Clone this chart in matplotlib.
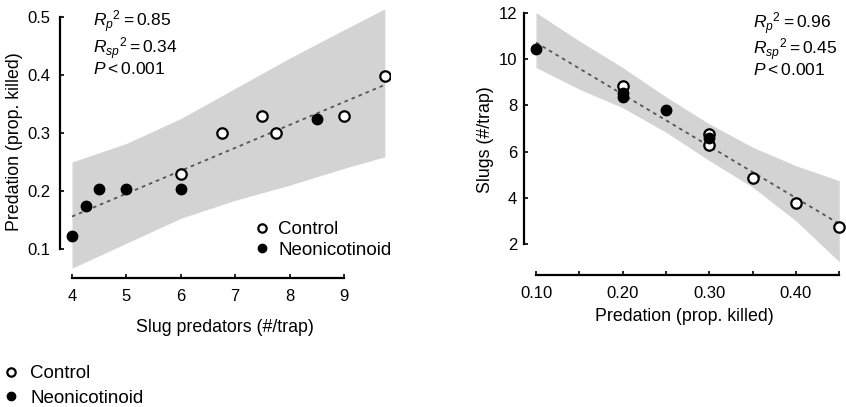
import matplotlib
matplotlib.use("Agg")
import matplotlib.pyplot as plt

plt.rcParams['font.family'] = ['Liberation Sans', 'DejaVu Sans']
plt.rcParams['mathtext.fontset'] = 'custom'
plt.rcParams['mathtext.rm'] = 'Liberation Sans'
plt.rcParams['mathtext.it'] = 'Liberation Sans:italic'

# ---- Left panel data: slug predators vs predation ----
left_ctrl_x = [6.0, 6.75, 7.5, 7.75, 9.0, 9.75]
left_ctrl_y = [0.23, 0.30, 0.33, 0.30, 0.33, 0.398]
left_neo_x = [4.0, 4.25, 4.5, 5.0, 6.0, 8.5]
left_neo_y = [0.123, 0.174, 0.204, 0.204, 0.204, 0.324]
left_fit_x = [4.0, 9.75]
left_fit_y = [0.156, 0.383]
left_band_x = [4, 5, 6, 7, 8, 9, 9.75]
left_band_lo = [0.067, 0.110, 0.153, 0.184, 0.210, 0.239, 0.259]
left_band_hi = [0.250, 0.282, 0.325, 0.377, 0.429, 0.478, 0.514]
left_xticks = [4, 5, 6, 7, 8, 9]
left_yticks = [0.1, 0.2, 0.3, 0.4, 0.5]
left_stats = [r'$R_{p}{}^{2} = 0.85$', r'$R_{sp}{}^{2} = 0.34$', r'$P < 0.001$']

# ---- Right panel data: predation vs slugs ----
right_ctrl_x = [0.20, 0.30, 0.30, 0.35, 0.40, 0.45]
right_ctrl_y = [8.82, 6.75, 6.30, 4.85, 3.78, 2.75]
right_neo_x = [0.10, 0.20, 0.20, 0.25, 0.30]
right_neo_y = [10.45, 8.55, 8.35, 7.78, 6.60]
right_fit_x = [0.10, 0.45]
right_fit_y = [10.72, 2.87]
right_band_x = [0.10, 0.15, 0.20, 0.25, 0.30, 0.35, 0.40, 0.45]
right_band_lo = [9.64, 8.70, 7.90, 6.84, 5.61, 4.46, 3.00, 1.23]
right_band_hi = [12.02, 10.79, 9.64, 8.37, 7.20, 6.19, 5.39, 4.74]
right_xticks = [0.10, 0.15, 0.20, 0.25, 0.30, 0.35, 0.40, 0.45]
right_xticklabels = ['0.10', '', '0.20', '', '0.30', '', '0.40', '']
right_yticks = [2, 4, 6, 8, 10, 12]
right_stats = [r'$R_{p}{}^{2} = 0.96$', r'$R_{sp}{}^{2} = 0.45$', r'$P < 0.001$']

legend_labels = ['Control', 'Neonicotinoid']

W, H = 846, 407
fig = plt.figure(figsize=(W / 100, H / 100), dpi=100)


def px_axes(l, t, r, b):
    return fig.add_axes([l / W, 1 - b / H, (r - l) / W, (b - t) / H])


band_col = '#d3d3d3'
line_col = '#555555'
ms = 7.5
tick_fs = 12
lab_fs = 12.8
stat_fs = 12.5
leg_fs = 13.5


def style(ax, xb, yb):
    for s in ['top', 'right']:
        ax.spines[s].set_visible(False)
    for s in ['left', 'bottom']:
        ax.spines[s].set_linewidth(1.6)
    ax.spines['bottom'].set_bounds(*xb)
    ax.spines['left'].set_bounds(*yb)
    ax.tick_params(direction='in', length=3, width=1.2, labelsize=tick_fs, colors='black')


def draw(ax, bx, blo, bhi, fx, fy, cx, cy, nx, ny):
    ax.fill_between(bx, blo, bhi, color=band_col, lw=0, zorder=1)
    ax.plot(fx, fy, color=line_col, lw=1.3, ls=(0, (2, 2.2)), zorder=2)
    h1, = ax.plot(cx, cy, 'o', ms=ms, mfc='white', mec='black', mew=1.6, ls='none', zorder=3)
    h2, = ax.plot(nx, ny, 'o', ms=ms, mfc='black', mec='black', mew=1.0, ls='none', zorder=4)
    return h1, h2


# Left axes
ax1 = px_axes(60, 5, 390, 278)
h1, h2 = draw(ax1, left_band_x, left_band_lo, left_band_hi, left_fit_x, left_fit_y,
              left_ctrl_x, left_ctrl_y, left_neo_x, left_neo_y)
ax1.set_xlim(4 - 12 / 54.4, 4 + (390 - 72) / 54.4)
ax1.set_ylim(0.1 - 29 / 580, 0.5 + 12 / 580)
ax1.set_xticks(left_xticks)
ax1.set_yticks(left_yticks)
ax1.set_yticklabels([f'{v:.1f}' for v in left_yticks])
style(ax1, (4, 9), (0.1, 0.5))
ax1.tick_params(axis='y', pad=7)
ax1.tick_params(axis='x', pad=8)
ax1.set_xlabel('Slug predators (#/trap)', fontsize=lab_fs, labelpad=11)
ax1.set_ylabel('Predation (prop. killed)', fontsize=lab_fs, labelpad=3)
fig.text(93 / W, 1 - 9 / H, '\n'.join(left_stats), fontsize=stat_fs, va='top', ha='left',
         linespacing=0.98)
ax1.legend([h1, h2], legend_labels, loc='upper left', bbox_to_anchor=(255 / W, 1 - 221 / H),
           bbox_transform=fig.transFigure, frameon=False, fontsize=leg_fs, markerscale=0.8,
           handlelength=0.7, handletextpad=0.55, labelspacing=0.2, borderpad=0, borderaxespad=0)

# Right axes
ax2 = px_axes(524, 5, 845, 275)
draw(ax2, right_band_x, right_band_lo, right_band_hi, right_fit_x, right_fit_y,
     right_ctrl_x, right_ctrl_y, right_neo_x, right_neo_y)
ax2.set_xlim(0.10 - 12 / 866.6, 0.10 + 309 / 866.6)
ax2.set_ylim(2 - 31 / 23.1, 12 + 8 / 23.1)
ax2.set_xticks(right_xticks)
ax2.set_xticklabels(right_xticklabels)
ax2.set_yticks(right_yticks)
style(ax2, (0.10, 0.45), (2, 12))
ax2.tick_params(axis='y', pad=5)
ax2.tick_params(axis='x', pad=8)
ax2.set_xlabel('Predation (prop. killed)', fontsize=lab_fs, labelpad=5)
ax2.set_ylabel('Slugs (#/trap)', fontsize=lab_fs, labelpad=3)
fig.text(753 / W, 1 - 11 / H, '\n'.join(right_stats), fontsize=stat_fs, va='top', ha='left',
         linespacing=0.92)

# Bottom figure legend
fig.legend([h1, h2], legend_labels, loc='upper left', bbox_to_anchor=(4 / W, 1 - 365 / H),
           frameon=False, fontsize=leg_fs, markerscale=0.8,
           handlelength=0.7, handletextpad=0.7, labelspacing=0.4, borderpad=0, borderaxespad=0)

fig.savefig('out.png', dpi=100)
